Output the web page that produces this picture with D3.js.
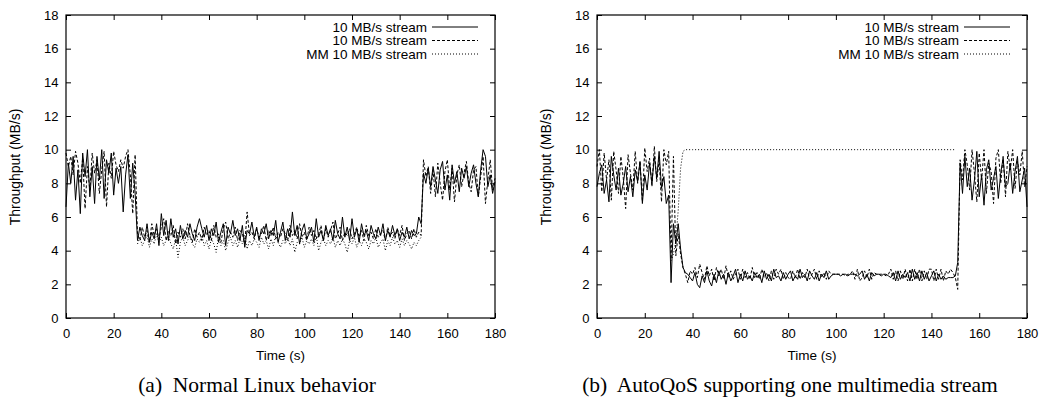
<!DOCTYPE html>
<html><head><meta charset="utf-8">
<script src="https://cdn.jsdelivr.net/npm/d3@7/dist/d3.min.js"></script>
<style>
body{margin:0;background:#fff}
svg text{font-family:"Liberation Sans",Arial,Helvetica,sans-serif;fill:#000}
</style>
</head><body>
<svg id="chart" width="1042" height="399"></svg>
<script>
// ---------- tick labels / text ----------
const xTicks = [0,20,40,60,80,100,120,140,160,180];
const yTicks = [0,2,4,6,8,10,12,14,16,18];
const xLabel = "Time (s)";
const yLabel = "Throughput (MB/s)";
const legendLabels = ["10 MB/s stream","10 MB/s stream","MM 10 MB/s stream"];
const captions = ["(a)  Normal Linux behavior","(b)  AutoQoS supporting one multimedia stream"];

// ---------- panel (a): Normal Linux behavior ----------
const aStream1Start = 0;
const aStream1 = [
 6.6,9.2,8.0,9.6,7.0,8.8,6.2,9.8,8.4,10.0, 7.2,9.0,6.8,9.6,8.2,10.0,7.1,9.4,8.6,9.8,
 7.3,8.9,8.0,9.0,6.3,8.5,9.7,7.1,9.2,7.4,
 4.6,5.4,4.9,4.6,5.6,4.5,5.1,4.7,5.6,4.3, 6.2,4.9,5.8,4.6,5.9,4.8,5.3,4.4,5.5,4.7,
 5.2,4.8,5.6,5.0,4.6,5.4,5.9,5.3,4.8,5.5, 4.6,5.3,4.9,5.7,4.5,5.1,5.6,4.3,5.4,5.0,
 5.8,4.9,5.3,4.6,5.5,4.2,5.2,5.0,5.7,4.8, 5.4,4.6,5.3,5.0,5.6,4.7,5.2,4.9,5.8,4.5,
 5.1,5.7,4.6,5.3,4.8,6.3,4.9,5.5,4.4,5.2, 5.6,4.7,5.0,5.4,4.5,5.9,4.8,5.2,4.6,5.5,
 4.9,5.3,4.6,5.8,5.0,4.7,6.0,4.8,5.4,4.6, 5.9,4.8,5.3,4.5,5.6,4.9,5.2,4.6,5.5,5.0,
 4.7,5.4,4.9,5.6,4.6,5.2,4.8,5.5,4.9,5.3, 4.6,5.1,4.8,5.4,4.7,5.2,4.9,5.0,6.0,5.6,
 8.6,8.0,8.9,7.8,9.0,8.2,7.4,8.8,9.3,7.6, 8.5,7.0,9.1,8.0,8.7,7.5,8.9,8.3,9.0,7.8,
 8.6,9.1,8.0,7.2,8.8,10.0,9.6,7.8,8.5,7.4, 8.1
];
const aStream2Start = 0;
const aStream2 = [
 9.8,9.0,9.6,8.5,9.9,9.2,8.0,9.5,6.5,9.0, 7.6,9.8,8.6,9.4,7.4,8.8,9.9,6.6,9.2,8.3,
 9.9,9.1,8.7,9.4,8.9,9.6,10.0,8.5,6.2,9.7,
 5.0,4.6,5.4,4.8,5.2,4.5,5.6,4.9,5.3,4.7, 5.4,5.9,4.6,5.2,4.9,5.5,4.4,5.1,4.8,5.3,
 4.7,5.6,4.9,4.5,5.3,4.8,5.1,4.6,5.4,4.9, 5.2,4.6,5.5,4.8,5.0,4.5,5.3,5.7,4.7,5.1,
 4.8,5.4,4.6,5.2,5.0,4.4,6.3,4.9,5.1,4.7, 5.3,4.8,5.0,5.5,4.6,5.2,4.9,5.4,4.7,5.1,
 4.8,5.3,5.0,4.6,5.5,4.9,5.2,4.7,5.6,4.8, 5.1,4.6,5.4,4.9,5.2,4.7,5.0,5.5,4.6,5.3,
 4.8,5.2,5.7,4.7,5.0,5.4,4.6,5.1,4.9,5.3, 4.7,5.0,5.4,4.8,5.2,4.6,5.5,4.9,5.1,4.7,
 5.3,4.8,5.0,5.2,4.6,5.4,4.9,5.1,4.7,5.3, 4.9,5.5,4.6,5.0,5.2,4.7,5.3,4.8,5.1,4.9,
 9.4,8.4,9.0,7.4,8.8,7.2,9.2,8.0,7.0,8.7, 9.4,7.6,8.9,6.9,8.5,9.1,7.8,8.6,9.3,8.0,
 7.5,8.8,9.0,7.2,8.4,9.6,6.8,8.2,9.4,7.6, 8.3
];
const aMMStart = 30;
const aMM = [
 4.4,4.8,4.3,4.6,4.9,4.2,4.7,4.4,5.0,4.5, 4.8,4.3,4.6,4.9,4.4,4.1,4.7,3.6,4.5,4.8,
 4.3,4.6,4.9,4.4,4.2,4.7,4.5,4.9,4.3,4.6, 4.1,4.7,4.4,3.9,4.8,4.3,4.6,4.0,4.5,4.8,
 4.3,4.6,4.2,4.7,4.4,4.9,4.1,4.6,4.3,4.7, 4.5,4.2,4.8,4.4,4.6,4.1,4.7,4.3,4.9,4.5,
 4.2,4.6,4.4,4.8,4.3,4.7,3.9,4.5,4.4,4.8, 4.2,4.6,4.4,4.7,4.3,4.9,4.0,4.5,4.7,4.3,
 4.6,4.4,4.8,4.2,4.6,4.3,4.7,4.4,3.9,4.6, 4.4,4.8,4.2,4.6,4.3,4.7,4.5,4.1,4.6,4.4,
 4.8,4.2,4.5,4.7,4.0,4.6,4.3,4.8,4.4,4.6, 4.2,4.7,4.3,4.6,4.4,4.1,4.5,4.3,4.6,4.8
];

// ---------- panel (b): AutoQoS ----------
const bStream1Start = 0;
const bStream1 = [
 7.8,8.6,9.1,7.4,8.2,6.9,9.6,8.5,7.6,8.9, 7.3,8.0,9.0,7.5,8.4,7.2,8.8,8.1,9.3,6.8,
 8.5,7.6,9.2,8.0,9.6,8.3,9.9,7.7,8.4,6.8,
 7.3,2.1,5.6,4.4,5.6,4.1,3.0,2.7,2.6,2.4,
 2.2,2.7,2.0,1.8,2.5,2.1,2.8,2.2,1.9,2.6, 2.1,2.8,2.3,2.6,2.0,2.7,2.2,2.5,2.9,2.1,
 2.6,2.2,2.8,2.3,2.5,2.2,2.7,2.4,2.6,2.1, 2.8,2.3,2.6,2.2,2.9,2.4,2.5,2.2,2.7,2.3,
 2.6,2.8,2.2,2.5,2.3,2.9,2.4,2.6,2.2,2.8, 2.5,2.3,2.7,2.2,2.6,2.4,2.8,2.3,2.5,2.6,
 2.6,2.6,2.5,2.6,2.6,2.5,2.6,2.6,2.6,2.5, 2.6,2.8,2.3,2.6,2.2,2.7,2.5,2.6,2.6,2.5,
 2.6,2.6,2.5,2.4,2.7,2.2,2.8,2.3,2.6,2.4, 2.7,2.2,2.9,2.3,2.7,2.2,2.8,2.3,2.7,2.2,
 2.5,2.8,2.2,2.6,2.3,2.5,2.3,2.4,2.4,2.4,
 2.5,3.3,9.2,
 7.4,9.6,7.8,8.9,7.0,8.2,9.9,7.2,8.5,6.7, 8.8,9.4,7.6,8.3,9.0,7.1,8.6,9.5,7.8,8.0,
 9.2,7.4,8.7,9.6,7.5,8.2,8.9,6.6
];
const bStream2Start = 0;
const bStream2 = [
 9.0,10.0,7.5,9.8,8.2,9.4,7.0,9.9,8.8,7.4, 9.6,8.3,6.5,9.7,8.6,7.6,9.9,8.0,9.3,6.9,
 10.1,8.7,9.5,7.8,10.2,8.1,9.4,6.9,10.0,9.1,
 9.9,3.5,9.6,3.7,5.0,3.8,3.0,2.6,2.1,2.8,
 2.6,3.0,2.4,3.2,2.7,2.3,3.1,2.5,2.9,2.2, 3.0,2.5,2.9,2.3,3.1,2.4,2.8,2.3,2.6,2.9,
 2.3,2.9,2.4,2.7,2.3,3.0,2.4,2.7,2.3,2.9, 2.4,2.7,2.2,2.8,2.3,2.9,2.6,2.9,2.3,2.7,
 2.4,2.3,2.8,2.4,2.9,2.3,2.7,2.4,2.9,2.3, 2.6,2.9,2.3,2.8,2.4,2.7,2.3,2.8,2.6,2.6,
 2.6,2.6,2.6,2.6,2.5,2.6,2.6,2.8,2.3,2.9, 2.2,2.4,2.8,2.4,2.9,2.3,2.7,2.6,2.6,2.6,
 2.6,2.5,2.6,2.9,2.3,2.8,2.2,2.8,2.3,2.9, 2.2,2.9,2.2,2.9,2.3,2.9,2.2,2.8,2.3,2.9,
 2.9,2.2,2.9,2.3,2.9,2.2,2.8,2.6,2.9,2.7,
 2.4,1.7,9.4,
 8.2,10.0,9.1,7.6,10.0,8.6,6.9,9.8,8.2,10.0, 7.4,9.2,8.7,6.8,9.5,10.0,8.0,9.6,7.2,9.9,
 8.8,10.0,7.7,9.3,8.5,9.9,7.8,9.0
];
const bMMStart = 31;
const bMM = [
 3.4,3.8,4.6,6.4,8.9,9.9,
 10,10,10,10,10,10,10,10,10,10, 10,10,10,10,10,10,10,10,10,10,
 10,10,10,10,10,10,10,10,10,10, 10,10,10,10,10,10,10,10,10,10,
 10,10,10,10,10,10,10,10,10,10, 10,10,10,10,10,10,10,10,10,10,
 10,10,10,10,10,10,10,10,10,10, 10,10,10,10,10,10,10,10,10,10,
 10,10,10,10,10,10,10,10,10,10, 10,10,10,10,10,10,10,10,10,10,
 10,10,10,10,10,10,10,10,10,10, 10,10,10,10
];

// ---------- drawing ----------
const svg = d3.select("#chart");
const dashes = [null, "3,2", "1,2"];
const panels = [
  {x0:66, x1:495, caption:captions[0], capX:257,
   series:[[aStream1Start,aStream1],[aStream2Start,aStream2],[aMMStart,aMM]]},
  {x0:597, x1:1027, caption:captions[1], capX:790,
   series:[[bStream1Start,bStream1],[bStream2Start,bStream2],[bMMStart,bMM]]}
];
const yTop = 15, yBot = 318, tick = 5;

panels.forEach(p => {
  const x = d3.scaleLinear().domain([0,180]).range([p.x0, p.x1]);
  const y = d3.scaleLinear().domain([0,18]).range([yBot, yTop]);
  const g = svg.append("g");

  // axes (gnuplot style: inward ticks, mirrored)
  const bottom = g.append("g").attr("transform",`translate(0,${yBot})`)
    .call(d3.axisBottom(x).tickValues(xTicks).tickSizeInner(-tick).tickSizeOuter(0).tickPadding(11));
  const top = g.append("g").attr("transform",`translate(0,${yTop})`)
    .call(d3.axisTop(x).tickValues(xTicks).tickSizeInner(-tick).tickSizeOuter(0).tickFormat(""));
  const left = g.append("g").attr("transform",`translate(${p.x0},0)`)
    .call(d3.axisLeft(y).tickValues(yTicks).tickSizeInner(-tick).tickSizeOuter(0).tickPadding(7.5));
  const right = g.append("g").attr("transform",`translate(${p.x1},0)`)
    .call(d3.axisRight(y).tickValues(yTicks).tickSizeInner(-tick).tickSizeOuter(0).tickFormat(""));
  [bottom,top,left,right].forEach(a => {
    a.select(".domain").remove();
    a.selectAll("line").attr("stroke","#000").attr("stroke-width",1);
    a.selectAll("text").style("font-family",'"Liberation Sans",Arial,sans-serif').style("font-size","13px").attr("fill","#000");
  });
  g.append("rect").attr("x",p.x0).attr("y",yTop).attr("width",p.x1-p.x0).attr("height",yBot-yTop)
    .attr("fill","none").attr("stroke","#000").attr("stroke-width",1.2);

  // series
  const line = d3.line().x(d=>x(d.t)).y(d=>y(d.v));
  p.series.forEach((s,k) => {
    const pts = s[1].map((v,i)=>({t:s[0]+i, v:v}));
    g.append("path").datum(pts).attr("d",line)
      .attr("fill","none").attr("stroke","#000").attr("stroke-width",1)
      .attr("stroke-dasharray",dashes[k]).attr("stroke-linejoin","miter");
  });

  // legend
  const rows = [27, 40.5, 54];
  legendLabels.forEach((lab,k) => {
    g.append("text").attr("x",p.x1-68).attr("y",rows[k]).attr("dy","0.35em")
      .attr("text-anchor","end").style("font-size","13.5px").text(lab);
    g.append("line").attr("x1",p.x1-63).attr("x2",p.x1-17).attr("y1",rows[k]).attr("y2",rows[k])
      .attr("stroke","#000").attr("stroke-width",1).attr("stroke-dasharray",dashes[k]);
  });

  // axis titles
  g.append("text").attr("x",(p.x0+p.x1)/2).attr("y",360).attr("text-anchor","middle")
    .style("font-size","13.5px").text(xLabel);
  g.append("text").attr("transform",`translate(${p.x0-46},167) rotate(-90)`)
    .attr("text-anchor","middle").style("font-size","14px").text(yLabel);

  // caption
  g.append("text").attr("x",p.capX).attr("y",392).attr("text-anchor","middle")
    .style("font-family",'"Liberation Serif","Times New Roman",serif').style("font-size","21.5px")
    .style("white-space","pre").text(p.caption);
});
</script>
</body></html>
